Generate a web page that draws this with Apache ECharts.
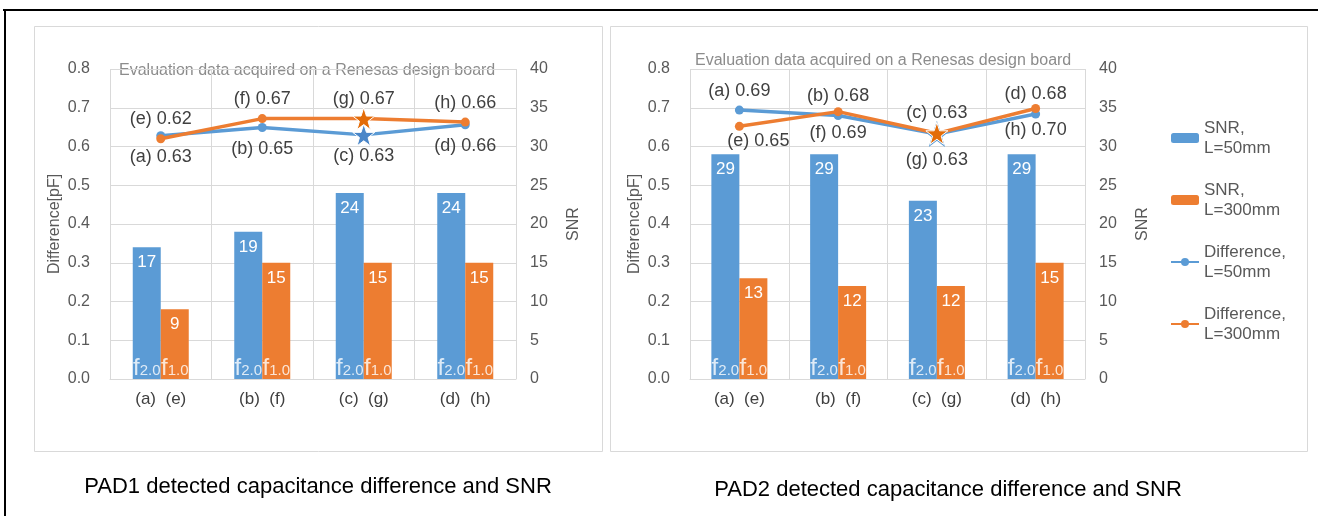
<!DOCTYPE html>
<html>
<head>
<meta charset="utf-8">
<script src="https://cdn.jsdelivr.net/npm/echarts@6/dist/echarts.min.js"></script>
<style>
html, body { margin: 0; padding: 0; background: #fff; }
#main { width: 1318px; height: 516px; }
</style>
</head>
<body>
<div id="main"></div>
<script>
// point letters (L=50mm series / L=300mm series)
var shortLetters = ['a', 'b', 'c', 'd'];
var longLetters = ['e', 'f', 'g', 'h'];

// PAD1
var pad1SnrShort = [17, 19, 24, 24];
var pad1SnrLong = [9, 15, 15, 15];
var pad1DiffShort = [0.628, 0.649, 0.630, 0.656];
var pad1DiffLong = [0.620, 0.672, 0.672, 0.663];

// PAD2
var pad2SnrShort = [29, 29, 23, 29];
var pad2SnrLong = [13, 12, 12, 15];
var pad2DiffShort = [0.694, 0.680, 0.632, 0.684];
var pad2DiffLong = [0.652, 0.690, 0.634, 0.698];

var starIndex = 2;
var noteText = 'Evaluation data acquired on a Renesas design board';
var captions = ['PAD1 detected capacitance difference and SNR', 'PAD2 detected capacitance difference and SNR'];

var BLUE = '#5b9bd5';
var ORANGE = '#ed7d31';
var GRID = '#d9d9d9';
var FONT = '"Liberation Sans", Arial, sans-serif';
var STAR = 'path://M50,0 L61.8,35.1 L98.1,35.1 L68.8,56.7 L79.4,91 L50,70 L20.6,91 L31.2,56.7 L1.9,35.1 L38.2,35.1 Z';

var names = ['SNR, L=50mm', 'SNR, L=300mm', 'Difference, L=50mm', 'Difference, L=300mm'];

var categories = shortLetters.map(function (s, i) {
    return '(' + s + ')  (' + longLetters[i] + ')';
});

function lineData(values, star, offsets) {
    return values.map(function (v, i) {
        var item = { value: v };
        if (i === starIndex) {
            item.symbol = STAR;
            item.symbolSize = 22;
            item.itemStyle = star;
        }
        if (offsets && offsets[i]) {
            item.label = { offset: offsets[i] };
        }
        return item;
    });
}

function fLabel(sub, dx) {
    return {
        show: true,
        position: 'top',
        distance: 0,
        offset: [dx, 0],
        formatter: '{f|f}{s|' + sub + '}',
        rich: {
            f: { fontSize: 24, color: '#fff', lineHeight: 22, padding: [0, 0, 9, 0], verticalAlign: 'top' },
            s: { fontSize: 15, color: '#fff', lineHeight: 15, verticalAlign: 'bottom' }
        }
    };
}

function pad(k, left, width, d) {
    var yl = k * 2, yr = k * 2 + 1;
    var grid = { left: left, width: width, top: 69, height: 310 };
    var xAxis = {
        type: 'category', gridIndex: k, data: categories,
        axisLine: { lineStyle: { color: GRID } },
        axisTick: { show: false },
        axisLabel: { color: '#404040', fontSize: 17, margin: 12 },
        splitLine: { show: true, lineStyle: { color: GRID } }
    };
    var yAxes = [{
        type: 'value', gridIndex: k, min: 0, max: 0.8, interval: 0.1,
        name: 'Difference[pF]', nameLocation: 'middle', nameGap: 47,
        nameTextStyle: { color: '#595959', fontSize: 16 },
        axisLabel: { color: '#595959', fontSize: 16, margin: 20, formatter: function (v) { return v.toFixed(1); } },
        axisLine: { show: false }, axisTick: { show: false },
        splitLine: { lineStyle: { color: GRID } }
    }, {
        type: 'value', gridIndex: k, position: 'right', min: 0, max: 40, interval: 5,
        name: 'SNR', nameLocation: 'middle', nameGap: 50,
        nameTextStyle: { color: '#595959', fontSize: 16 },
        axisLabel: { color: '#595959', fontSize: 16, margin: 14 },
        axisLine: { show: false }, axisTick: { show: false },
        splitLine: { show: false }
    }];
    var barLabel = { show: true, position: 'insideTop', distance: 7, color: '#fff', fontSize: 17 };
    var series = [{
        name: names[0], type: 'bar', xAxisIndex: k, yAxisIndex: yr,
        barWidth: 28, barGap: '0%', itemStyle: { color: BLUE }, label: barLabel, data: d.snrShort
    }, {
        name: names[1], type: 'bar', xAxisIndex: k, yAxisIndex: yr,
        barWidth: 28, barGap: '0%', itemStyle: { color: ORANGE }, label: barLabel, data: d.snrLong
    }, {
        name: 'f2.0', type: 'scatter', xAxisIndex: k, yAxisIndex: yr, silent: true, z: 5,
        symbolSize: 1, itemStyle: { color: 'rgba(0,0,0,0)' },
        label: fLabel('2.0', -14), data: [0, 0, 0, 0]
    }, {
        name: 'f1.0', type: 'scatter', xAxisIndex: k, yAxisIndex: yr, silent: true, z: 5,
        symbolSize: 1, itemStyle: { color: 'rgba(0,0,0,0)' },
        label: fLabel('1.0', 14), data: [0, 0, 0, 0]
    }, {
        name: names[2], type: 'line', xAxisIndex: k, yAxisIndex: yl, z: 6,
        symbol: 'circle', symbolSize: 9,
        lineStyle: { width: 3.5, color: BLUE }, itemStyle: { color: BLUE },
        label: {
            show: true, position: d.shortPos, distance: d.shortPos === 'top' ? 6 : 8,
            color: '#404040', fontSize: 18,
            formatter: function (p) { return '(' + shortLetters[p.dataIndex] + ') ' + p.value.toFixed(2); }
        },
        data: lineData(d.diffShort, d.shortStar, d.shortOffsets)
    }, {
        name: names[3], type: 'line', xAxisIndex: k, yAxisIndex: yl, z: 7,
        symbol: 'circle', symbolSize: 9,
        lineStyle: { width: 3.5, color: ORANGE }, itemStyle: { color: ORANGE },
        label: {
            show: true, position: d.longPos, distance: d.longPos === 'top' ? 6 : 8,
            color: '#404040', fontSize: 18,
            formatter: function (p) { return '(' + longLetters[p.dataIndex] + ') ' + p.value.toFixed(2); }
        },
        data: lineData(d.diffLong, d.longStar, d.longOffsets)
    }];
    return { grid: grid, xAxis: xAxis, yAxis: yAxes, series: series };
}

var p1 = pad(0, 110, 406, {
    snrShort: pad1SnrShort, snrLong: pad1SnrLong,
    diffShort: pad1DiffShort, diffLong: pad1DiffLong,
    shortPos: 'bottom', longPos: 'top',
    shortStar: { color: '#4a86c8', borderColor: '#fff', borderWidth: 1 },
    longStar: { color: '#e36c09', borderColor: '#fff', borderWidth: 1 },
    shortOffsets: [null, null, [0, -7], null],
    longOffsets: [null, null, [0, 7], null]
});
var p2 = pad(1, 690, 395, {
    snrShort: pad2SnrShort, snrLong: pad2SnrLong,
    diffShort: pad2DiffShort, diffLong: pad2DiffLong,
    shortPos: 'top', longPos: 'bottom',
    shortStar: { color: '#fff', borderColor: BLUE, borderWidth: 1.5 },
    longStar: { color: '#e36c09', borderColor: '#fff', borderWidth: 1 },
    shortOffsets: [null, null, [0, 6], null],
    longOffsets: [[19, -7], null, [0, -2], null]
});

var option = {
    animation: false,
    backgroundColor: '#fff',
    textStyle: { fontFamily: FONT },
    grid: [p1.grid, p2.grid],
    xAxis: [p1.xAxis, p2.xAxis],
    yAxis: p1.yAxis.concat(p2.yAxis),
    series: p1.series.concat(p2.series),
    legend: {
        data: names,
        orient: 'vertical',
        left: 1165,
        top: 103,
        itemWidth: 28,
        itemHeight: 10,
        itemGap: 2,
        selectedMode: false,
        formatter: function (n) { return n.replace(', ', ',\n'); },
        textStyle: { color: '#595959', fontSize: 17, lineHeight: 20, padding: [20, 0, 0, 0] }
    },
    graphic: [
        { type: 'line', shape: { x1: 3, y1: 10, x2: 1318, y2: 10 }, style: { stroke: '#000', lineWidth: 2 } },
        { type: 'line', shape: { x1: 5, y1: 9, x2: 5, y2: 516 }, style: { stroke: '#000', lineWidth: 2 } },
        { type: 'rect', shape: { x: 34.5, y: 26.5, width: 568, height: 425 }, style: { fill: 'none', stroke: GRID, lineWidth: 1 } },
        { type: 'rect', shape: { x: 610.5, y: 26.5, width: 697, height: 425 }, style: { fill: 'none', stroke: GRID, lineWidth: 1 } },
        { type: 'text', x: 119, y: 71, style: { text: noteText, fill: '#8c8c8c', fontSize: 16, fontFamily: FONT, verticalAlign: 'middle' } },
        { type: 'text', x: 695, y: 61, style: { text: noteText, fill: '#8c8c8c', fontSize: 16, fontFamily: FONT, verticalAlign: 'middle' } },
        { type: 'text', x: 318, y: 487, style: { text: captions[0], fill: '#000', fontSize: 22, fontFamily: FONT, align: 'center', verticalAlign: 'middle' } },
        { type: 'text', x: 948, y: 490, style: { text: captions[1], fill: '#000', fontSize: 22, fontFamily: FONT, align: 'center', verticalAlign: 'middle' } }
    ]
};

var chart = echarts.init(document.getElementById('main'));
chart.setOption(option);
</script>
</body>
</html>
